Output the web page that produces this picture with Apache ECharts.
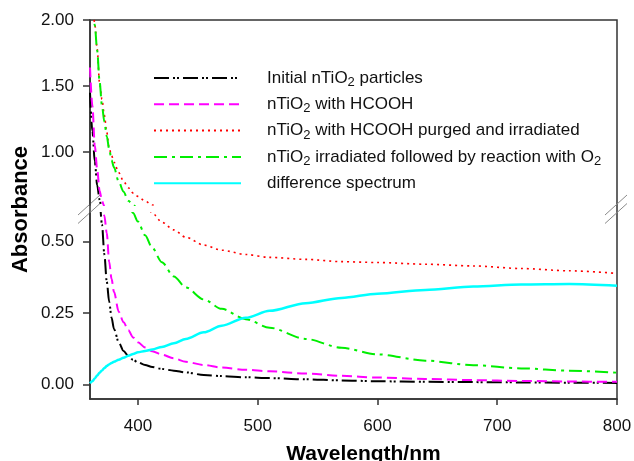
<!DOCTYPE html>
<html lang="en">
<head>
<meta charset="UTF-8">
<title>Absorbance spectra</title>
<script src="https://cdn.jsdelivr.net/npm/echarts@6/dist/echarts.min.js"></script>
<style>
  html, body { margin: 0; padding: 0; background: #fff; }
  #chart { width: 634px; height: 461px; }
</style>
</head>
<body>
<div id="chart"></div>
<script>
// wavelength (nm) and absorbance
var wavelength = [360, 362, 364, 366, 368, 370, 372, 374, 376, 378, 380, 384, 388, 392, 396, 400, 406, 412, 420, 430, 440, 455, 470, 490, 510, 540, 570, 600, 640, 680, 720, 760, 800]
var initial = [1.45, 1.16, 0.93, 0.75, 0.64, 0.56, 0.455, 0.36, 0.29, 0.235, 0.195, 0.148, 0.118, 0.10, 0.087, 0.078, 0.069, 0.062, 0.055, 0.049, 0.043, 0.034, 0.030, 0.026, 0.023, 0.019, 0.015, 0.012, 0.010, 0.009, 0.008, 0.007, 0.006]
var withHcooh = [1.64, 1.35, 1.05, 0.87, 0.71, 0.63, 0.59, 0.53, 0.43, 0.37, 0.325, 0.255, 0.218, 0.19, 0.165, 0.148, 0.13, 0.117, 0.105, 0.092, 0.080, 0.069, 0.060, 0.052, 0.047, 0.039, 0.031, 0.025, 0.020, 0.016, 0.013, 0.011, 0.010]
var purged = [2.5, 2.15, 1.97, 1.78, 1.52, 1.40, 1.28, 1.15, 1.03, 0.975, 0.925, 0.845, 0.78, 0.73, 0.69, 0.665, 0.63, 0.60, 0.568, 0.541, 0.515, 0.488, 0.47, 0.455, 0.445, 0.438, 0.430, 0.427, 0.421, 0.415, 0.406, 0.398, 0.389]
var reacted = [2.5, 2.12, 1.96, 1.77, 1.535, 1.35, 1.23, 1.12, 1.025, 0.94, 0.885, 0.776, 0.70, 0.632, 0.60, 0.570, 0.522, 0.478, 0.428, 0.378, 0.340, 0.298, 0.265, 0.229, 0.199, 0.160, 0.129, 0.106, 0.084, 0.068, 0.057, 0.049, 0.042]
var difference = [0.005, 0.012, 0.022, 0.032, 0.042, 0.050, 0.058, 0.065, 0.071, 0.076, 0.080, 0.087, 0.094, 0.101, 0.107, 0.113, 0.118, 0.123, 0.132, 0.145, 0.160, 0.183, 0.206, 0.234, 0.258, 0.285, 0.303, 0.318, 0.331, 0.343, 0.350, 0.352, 0.346]

var xTicks = [400, 500, 600, 700, 800]
var yTicksUpper = [1.00, 1.50, 2.00]
var yTicksLower = [0.00, 0.25, 0.50]

var names = [
    'Initial nTiO2 particles',
    'nTiO2 with HCOOH',
    'nTiO2 with HCOOH purged and irradiated',
    'nTiO2 irradiated followed by reaction with O2',
    'difference spectrum'
]
var values = [initial, withHcooh, purged, reacted, difference]
var styles = [
    { color: '#000000', width: 2, type: [15, 4, 2, 2, 2, 4] },
    { color: '#ff00ff', width: 2, type: [10, 5] },
    { color: '#ff0000', width: 1.6, type: [2, 4] },
    { color: '#00ee00', width: 2, type: [13, 5, 3, 5] },
    { color: '#00ffff', width: 2.5, type: 'solid' }
]

var font = 'Liberation Sans, Arial, Helvetica, sans-serif'
var axisColor = '#333'
// plot frame
var L = 90, R = 617, T = 20, B = 399
var breakTop = 205, breakBottom = 213

var chart = echarts.init(document.getElementById('chart'))

function pairs(vals) {
    return wavelength.map(function (w, i) { return [w, vals[i]] })
}

var series = []
;[0, 1].forEach(function (g) {
    names.forEach(function (n, i) {
        series.push({
            name: n,
            type: 'line',
            xAxisIndex: g,
            yAxisIndex: g,
            data: pairs(values[i]),
            symbol: 'none',
            smooth: 0.3,
            smoothMonotone: 'x',
            clip: true,
            lineStyle: styles[i],
            itemStyle: { color: styles[i].color }
        })
    })
})

function yAxisFor(g, min, max, ticks) {
    return {
        gridIndex: g, type: 'value', min: min, max: max,
        axisLine: { show: true, onZero: false, lineStyle: { color: axisColor, width: 1.5 } },
        axisTick: { customValues: ticks, length: 7, lineStyle: { color: axisColor, width: 1.5 } },
        axisLabel: {
            customValues: ticks, margin: 16, fontFamily: font, fontSize: 17, color: '#111',
            formatter: function (v) { return v.toFixed(2) }
        },
        splitLine: { show: false }
    }
}

function breakMarks(x) {
    return [
        { type: 'line', shape: { x1: x - 12, y1: 215, x2: x + 10, y2: 195 }, style: { stroke: '#8a8a8a', lineWidth: 1 } },
        { type: 'line', shape: { x1: x - 12, y1: 223.5, x2: x + 10, y2: 203.5 }, style: { stroke: '#8a8a8a', lineWidth: 1 } }
    ]
}

var options = {
    animation: false,
    backgroundColor: '#fff',
    grid: [
        { left: L, top: T, width: R - L, height: breakTop - T, outerBoundsMode: 'none' },
        { left: L, top: breakBottom, width: R - L, height: B - breakBottom, outerBoundsMode: 'none' },
        { left: L, top: T, width: R - L, height: B - T, outerBoundsMode: 'none', show: true, borderColor: axisColor, borderWidth: 1.5, backgroundColor: 'transparent' }
    ],
    xAxis: [
        { gridIndex: 0, type: 'value', min: 360, max: 800, show: false },
        {
            gridIndex: 1, type: 'value', min: 360, max: 800,
            axisLine: { show: true, onZero: false, lineStyle: { color: axisColor, width: 1.5 } },
            axisTick: { show: true, customValues: xTicks, length: 6, lineStyle: { color: axisColor, width: 1.5 } },
            axisLabel: { customValues: xTicks, margin: 19, fontFamily: font, fontSize: 17, color: '#111' },
            splitLine: { show: false },
            name: 'Wavelength/nm', nameLocation: 'middle', nameGap: 45,
            nameTextStyle: { fontFamily: font, fontSize: 21, fontWeight: 'bold', color: '#000', padding: [0, 0, 0, 20] }
        },
        { gridIndex: 2, type: 'value', min: 360, max: 800, show: false }
    ],
    yAxis: [
        yAxisFor(0, 0.6, 2.0, yTicksUpper),
        yAxisFor(1, -0.05, 0.6, yTicksLower),
        {
            gridIndex: 2, type: 'value', min: 0, max: 1,
            axisLine: { show: false }, axisTick: { show: false }, axisLabel: { show: false }, splitLine: { show: false },
            name: 'Absorbance', nameLocation: 'middle', nameGap: 58,
            nameTextStyle: { fontFamily: font, fontSize: 22, fontWeight: 'bold', color: '#000' }
        }
    ],
    legend: {
        data: names,
        orient: 'vertical',
        left: 153,
        top: 67,
        padding: 0,
        itemGap: 4.3,
        itemWidth: 87,
        itemHeight: 14,
        selectedMode: false,
        itemStyle: { opacity: 0, color: 'transparent', borderWidth: 0 },
        formatter: function (n) { return n.replace(/O2/g, 'O{sub|2}') },
        textStyle: {
            fontFamily: font, fontSize: 17, color: '#111', lineHeight: 22, padding: [0, 0, 0, 21],
            rich: { sub: { fontFamily: font, fontSize: 13, lineHeight: 13, padding: [9, 0, 0, 0], color: '#111' } }
        }
    },
    graphic: breakMarks(L).concat(breakMarks(R)),
    series: series
}
chart.setOption(options)
</script>
</body>
</html>
